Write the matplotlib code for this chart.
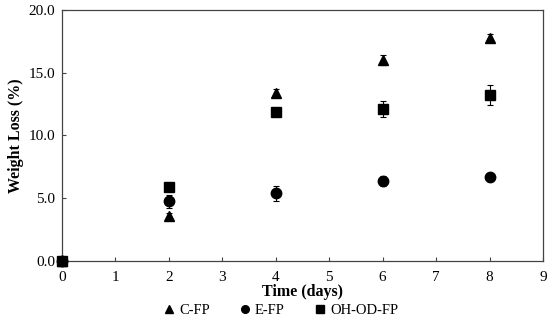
import numpy as np
import matplotlib.pyplot as plt
from matplotlib.lines import Line2D
from matplotlib.ticker import FormatStrFormatter

plt.rcParams['font.family'] = ['Liberation Serif', 'DejaVu Serif']

# === DATA ===
days = [0, 2, 4, 6, 8]
c_fp = [0.0, 3.6, 13.4, 16.0, 17.8]
c_fp_err = [0.0, 0.2, 0.3, 0.4, 0.3]
e_fp = [0.0, 4.75, 5.4, 6.4, 6.7]
e_fp_err = [0.0, 0.5, 0.6, 0.4, 0.1]
ohod_fp = [0.0, 5.9, 11.9, 12.1, 13.2]
ohod_fp_err = [0.0, 0.2, 0.2, 0.65, 0.8]
series_names = ['C-FP', 'E-FP', 'OH-OD-FP']
series_markers = ['^', 'o', 's']

fig = plt.figure(figsize=(5.5, 3.23), dpi=100)
ax = fig.add_axes([0.1127, 0.192, 0.8745, 0.777])

common = dict(linestyle='none', color='black', ecolor='black',
              elinewidth=0.8, capsize=2.5, capthick=0.8, markersize=7.5)
for vals, errs, m in zip([c_fp, e_fp, ohod_fp],
                         [c_fp_err, e_fp_err, ohod_fp_err], series_markers):
    eb = ax.errorbar(days, vals, yerr=errs, marker=m, **common)
    # keep the day-0 markers visible on the axis corner
    eb.lines[0].set_clip_on(False)
    eb.lines[0].set_zorder(5)

ax.set_xlim(0, 9)
ax.set_ylim(0, 20)
ax.set_xticks(range(0, 10))
ax.set_yticks([0, 5, 10, 15, 20])
ax.yaxis.set_major_formatter(FormatStrFormatter('%.1f'))
ax.tick_params(direction='in', length=3, width=0.8, labelsize=11, color='#444444')
ax.tick_params(axis='x', pad=7)
ax.tick_params(axis='y', pad=5)
for s in ax.spines.values():
    s.set_color('#444444')
    s.set_linewidth(0.9)

ax.set_xlabel('Time (days)', fontsize=11.5, fontweight='bold', labelpad=0)
ax.set_ylabel('Weight Loss (%)', fontsize=11.5, fontweight='bold', labelpad=3)

handles = [Line2D([], [], linestyle='none', marker=m, color='black', markersize=5.5)
           for m in series_markers]
fig.legend(handles, series_names, loc='center', bbox_to_anchor=(0.513, 0.04), ncol=3,
           frameon=False, fontsize=10.5, handlelength=0.4, handletextpad=0.5,
           columnspacing=2.2)

fig.savefig('out.png', dpi=100)
